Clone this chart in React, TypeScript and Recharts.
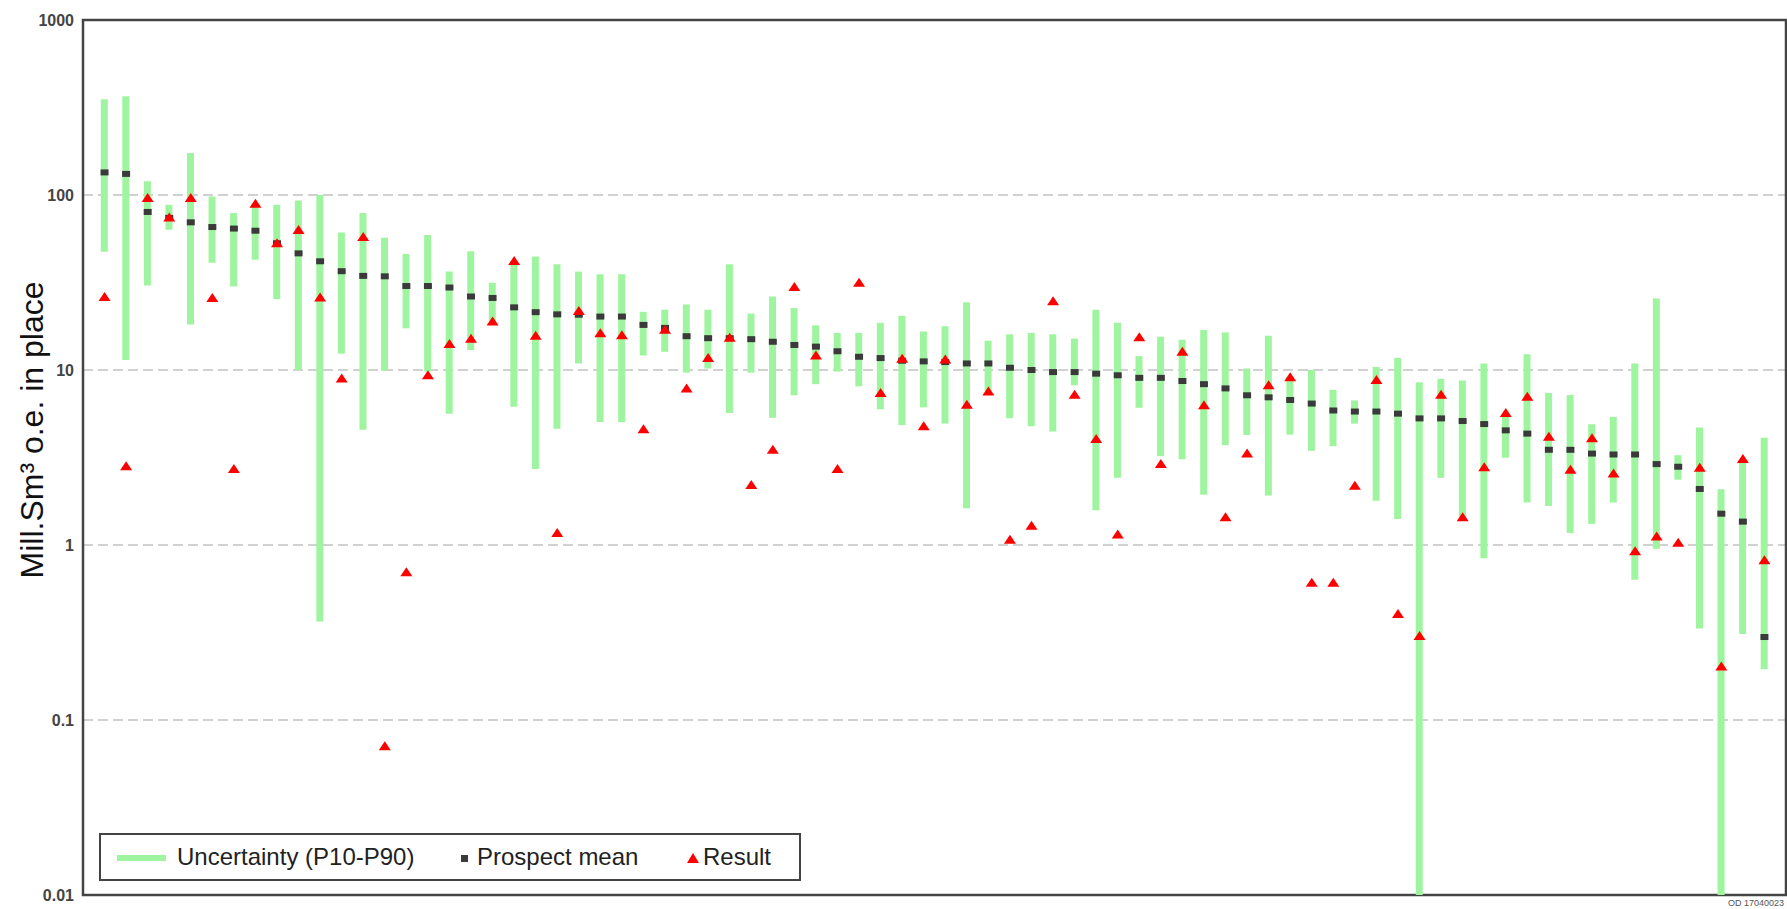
import React from "react";
import {
  ComposedChart,
  Bar,
  Scatter,
  XAxis,
  YAxis,
  CartesianGrid,
  ReferenceArea,
} from "recharts";

// --- Prospect volumes, Mill. Sm3 o.e. in place (sorted by prospect mean) ---
const p10High = [
  352, 367, 120, 88, 174, 98, 79, 90, 88, 93, 100, 61, 79,
  57, 46, 59, 36.5, 47.7, 31.5, 42, 44.5, 40.2, 36.5, 35.2, 35.2, 21.5,
  22.1, 23.7, 22.1, 40.2, 21, 26.3, 22.6, 18, 16.3, 16.3, 18.6, 20.4, 16.6,
  17.8, 24.4, 14.7, 16, 16.3, 16, 15.1, 22.1, 18.6, 12, 15.5, 14.9, 16.9,
  16.4, 10.2, 15.7, 9.1, 10, 7.7, 6.7, 10.4, 11.7, 8.5, 8.9, 8.7, 10.9,
  5.6, 12.3, 7.4, 7.2, 4.9, 5.4, 10.9, 25.6, 3.26, 4.7, 2.08, 3.1, 4.1,
];

const p90Low = [
  47.4, 11.4, 30.4, 63.4, 18.2, 41, 30, 42.7, 25.4, 10, 0.365, 12.4, 4.55,
  9.9, 17.3, 9.8, 5.63, 13, 19, 6.17, 2.72, 4.61, 10.9, 5.04, 5.04, 12.1,
  12.7, 9.66, 10.2, 5.67, 9.66, 5.33, 7.17, 8.3, 9.8, 8.07, 5.96, 4.84, 6.12,
  4.94, 1.62, 7.53, 5.3, 4.77, 4.45, 8.18, 1.58, 2.42, 6.08, 3.22, 3.09, 1.94,
  3.72, 4.25, 1.92, 4.27, 3.45, 3.67, 4.94, 1.79, 1.41, 0.01, 2.42, 1.44, 0.84,
  3.15, 1.75, 1.67, 1.17, 1.32, 1.75, 0.634, 0.953, 2.36, 0.333, 0.01, 0.31, 0.195,
];

const prospectMean = [
  134.6, 132, 80, 74, 69.8, 65.6, 64.3, 62.5, 53, 46.4, 41.8, 36.7, 34.5,
  34.3, 30.2, 30.2, 29.6, 26.3, 25.8, 22.8, 21.4, 20.8, 20.7, 20.2, 20.2, 18.1,
  17.4, 15.6, 15.2, 15.2, 15, 14.5, 13.9, 13.6, 12.8, 11.9, 11.7, 11.3, 11.2,
  11.1, 10.9, 10.9, 10.3, 10, 9.73, 9.73, 9.53, 9.33, 9.02, 9.02, 8.65, 8.3,
  7.85, 7.17, 6.98, 6.74, 6.43, 5.87, 5.79, 5.79, 5.63, 5.29, 5.29, 5.11, 4.91,
  4.52, 4.33, 3.5, 3.5, 3.33, 3.29, 3.29, 2.9, 2.8, 2.09, 1.51, 1.36, 0.298,
];

const drillResult = [
  26.1, 2.82, 96, 74.3, 96, 25.8, 2.72, 89, 53, 63, 26, 8.95, 57.5,
  0.0708, 0.698, 9.33, 14.1, 15.1, 18.9, 41.9, 15.7, 1.17, 21.7, 16.2, 15.8, 4.58,
  17, 7.85, 11.7, 15.3, 2.2, 3.5, 29.8, 12.1, 2.72, 31.5, 7.38, 11.6, 4.77,
  11.5, 6.34, 7.53, 1.07, 1.29, 24.7, 7.22, 4.04, 1.15, 15.4, 2.9, 12.7, 6.29,
  1.44, 3.33, 8.18, 9.08, 0.608, 0.608, 2.18, 8.77, 0.404, 0.302, 7.22, 1.44, 2.78,
  5.67, 7.03, 4.16, 2.69, 4.07, 2.56, 0.92, 1.12, 1.03, 2.76, 0.202, 3.1, 0.818,
];

const yTicks = [0.01, 0.1, 1, 10, 100, 1000];

const chartData = prospectMean.map((m, i) => ({
  idx: i + 1,
  range: [p90Low[i], p10High[i]],
  mean: m,
  result: drillResult[i],
}));

const FONT = "'Liberation Sans', Arial, Helvetica, sans-serif";
const GREEN = "#9ff59f";
const RED = "#ff0000";
const DARK = "#3a3a3a";

const MeanMarker = (props: any) => {
  const { cx, cy } = props;
  if (cx == null || cy == null) return null;
  return <rect x={cx - 4} y={cy - 3} width={8} height={6} fill={DARK} />;
};

const ResultMarker = (props: any) => {
  const { cx, cy } = props;
  if (cx == null || cy == null) return null;
  return (
    <path
      d={`M${cx},${cy - 5} L${cx + 6},${cy + 4} L${cx - 6},${cy + 4} Z`}
      fill={RED}
    />
  );
};

const YLabel = () => (
  <text
    x={43}
    y={430}
    transform="rotate(-90 43 430)"
    textAnchor="middle"
    fontSize={32}
    fontFamily={FONT}
    fill="#111"
  >
    Mill.Sm³ o.e. in place
  </text>
);

const LegendBox = () => (
  <div
    style={{
      position: "absolute",
      left: 99,
      top: 833,
      width: 702,
      height: 48,
      boxSizing: "border-box",
      border: "2px solid #444",
      background: "#fff",
      fontFamily: FONT,
      fontSize: 24,
      color: "#222",
    }}
  >
    <div style={{ position: "absolute", left: 16, top: 20, width: 49, height: 6, background: GREEN }} />
    <span style={{ position: "absolute", left: 76, top: 8, whiteSpace: "nowrap" }}>
      Uncertainty (P10-P90)
    </span>
    <div style={{ position: "absolute", left: 360, top: 20, width: 7, height: 7, background: DARK }} />
    <span style={{ position: "absolute", left: 376, top: 8, whiteSpace: "nowrap" }}>
      Prospect mean
    </span>
    <svg style={{ position: "absolute", left: 585, top: 17 }} width={14} height={12}>
      <path d="M7,1 L13,11 L1,11 Z" fill={RED} />
    </svg>
    <span style={{ position: "absolute", left: 602, top: 8, whiteSpace: "nowrap" }}>
      Result
    </span>
  </div>
);

export default function App() {
  return (
    <div
      style={{
        position: "absolute",
        left: 0,
        top: 0,
        width: 1787,
        height: 909,
        background: "#fff",
        overflow: "hidden",
      }}
    >
      <ComposedChart
        width={1787}
        height={909}
        data={chartData}
        margin={{ top: 20, right: 1, bottom: 14, left: 0 }}
      >
        <CartesianGrid
          vertical={false}
          stroke="#c2c2c2"
          strokeWidth={1.5}
          strokeDasharray="10 5"
        />
        <XAxis type="number" dataKey="idx" domain={[0, 79]} hide />
        <YAxis
          scale="log"
          domain={[0.01, 1000]}
          ticks={yTicks}
          allowDataOverflow
          width={83}
          axisLine={false}
          tickLine={false}
          tickSize={7}
          tickMargin={2}
          tickFormatter={(v: number) => String(v)}
          tick={{ fill: "#444", fontSize: 16, fontWeight: "bold", fontFamily: FONT }}
        />
        <Bar dataKey="range" barSize={7} fill={GREEN} isAnimationActive={false} />
        <Scatter dataKey="mean" shape={MeanMarker} isAnimationActive={false} />
        <Scatter dataKey="result" shape={ResultMarker} isAnimationActive={false} />
        <ReferenceArea
          x1={0}
          x2={79}
          y1={0.01}
          y2={1000}
          fill="none"
          stroke="#444"
          strokeWidth={2.5}
          ifOverflow="visible"
        />
      </ComposedChart>
      <svg
        style={{ position: "absolute", left: 0, top: 0, pointerEvents: "none" }}
        width={1787}
        height={909}
      >
        <YLabel />
        <text x={1784} y={906} textAnchor="end" fontSize={9} fontFamily={FONT} fill="#555">
          OD 17040023
        </text>
      </svg>
      <LegendBox />
    </div>
  );
}
